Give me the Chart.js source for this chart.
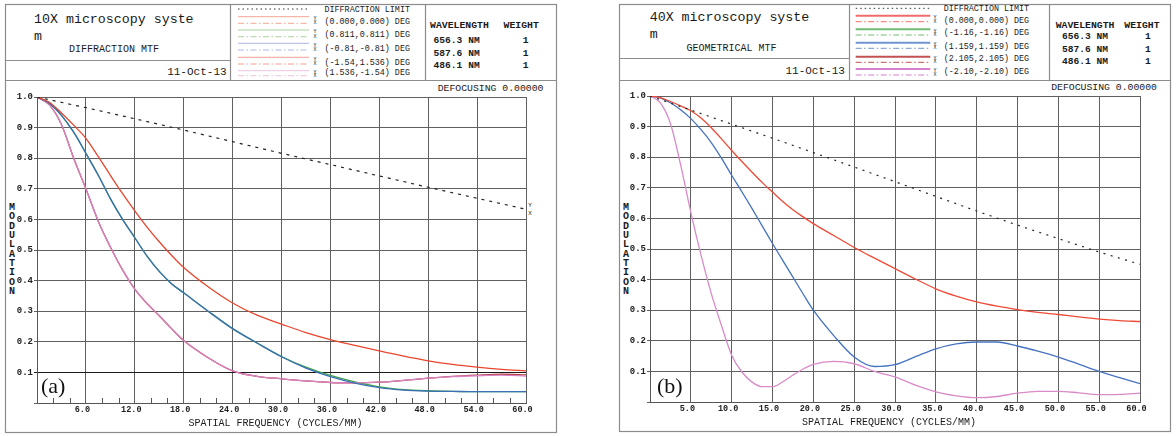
<!DOCTYPE html>
<html>
<head>
<meta charset="utf-8">
<script src="https://cdn.jsdelivr.net/npm/chart.js@4.4.1/dist/chart.umd.min.js"></script>
<style>
  body { margin: 0; background: #fff; width: 1176px; height: 436px; overflow: hidden; position: relative; }
  svg { position: absolute; left: 0; top: 0; font-family: "Liberation Mono", monospace; fill: #1a1a1a; }
  canvas { position: absolute; }
  .tag { position: absolute; font-family: "Liberation Serif", serif; font-size: 22px; line-height: 22px; color: #111; }
</style>
</head>
<body>
<svg id="frame" width="1176" height="436"></svg>
<canvas id="chartA" width="550" height="351" style="left:6px;top:81px"></canvas>
<canvas id="chartB" width="550" height="350" style="left:620px;top:81px"></canvas>
<div class="tag" style="left:41px;top:375px">(a)</div>
<div class="tag" style="left:657px;top:375px">(b)</div>
<script>
// ---- panel (a): 10X, diffraction MTF ----
const A_FREQ = [0, 1.5, 3, 4.5, 6, 7.5, 9, 10.5, 12, 13.5, 15, 16.5, 18, 21, 24, 27, 30, 33, 36, 39, 42, 45, 48, 51, 54, 57, 60];
const A_RED = [1.0, 0.983, 0.948, 0.908, 0.865, 0.806, 0.744, 0.684, 0.628, 0.575, 0.527, 0.483, 0.443, 0.38, 0.327, 0.287, 0.258, 0.23, 0.207, 0.188, 0.17, 0.153, 0.138, 0.126, 0.117, 0.11, 0.105];
const A_GREEN = [1.0, 0.98, 0.94, 0.885, 0.816, 0.745, 0.668, 0.6, 0.54, 0.48, 0.43, 0.39, 0.36, 0.30, 0.243, 0.196, 0.152, 0.117, 0.09, 0.069, 0.053, 0.044, 0.04, 0.038, 0.037, 0.037, 0.037];
const A_BLUE = [1.0, 0.98, 0.94, 0.885, 0.816, 0.745, 0.668, 0.6, 0.54, 0.48, 0.43, 0.39, 0.36, 0.30, 0.243, 0.196, 0.151, 0.114, 0.086, 0.065, 0.05, 0.042, 0.039, 0.038, 0.037, 0.037, 0.037];
const A_DKRED = [1.0, 0.975, 0.91, 0.80, 0.70, 0.595, 0.51, 0.435, 0.372, 0.325, 0.285, 0.243, 0.204, 0.148, 0.105, 0.087, 0.079, 0.072, 0.067, 0.066, 0.068, 0.074, 0.081, 0.087, 0.091, 0.094, 0.092];
const A_PINK = [1.0, 0.975, 0.91, 0.80, 0.70, 0.595, 0.51, 0.435, 0.372, 0.325, 0.285, 0.243, 0.204, 0.148, 0.105, 0.087, 0.079, 0.072, 0.067, 0.066, 0.068, 0.074, 0.081, 0.086, 0.089, 0.091, 0.088];
const A_DIFF_FREQ = [0, 6, 12, 18, 24, 30, 36, 42, 48, 54, 60];
const A_DIFF = [1.0, 0.965, 0.929, 0.892, 0.854, 0.816, 0.779, 0.742, 0.705, 0.669, 0.633];
const A_MINOR = [2, 4, 8, 10, 14, 16, 20, 22, 26, 28, 32, 34, 38, 40, 44, 46, 50, 52, 56, 58];
const A_FIELDS = ['(0.000,0.000) DEG', '(0.811,0.811) DEG', '(-0.81,-0.81) DEG', '(-1.54,1.536) DEG', '(1.536,-1.54) DEG'];

// ---- panel (b): 40X, geometrical MTF ----
const B_FREQ = [0, 1.25, 2.5, 3.75, 5, 6.25, 7.5, 8.75, 10, 11.25, 12.5, 13.75, 15, 16.25, 17.5, 18.75, 20, 22.5, 25, 27.5, 30, 32.5, 35, 37.5, 40, 42.5, 45, 47.5, 50, 52.5, 55, 57.5, 60];
const B_RED = [1.0, 0.995, 0.982, 0.968, 0.952, 0.928, 0.896, 0.86, 0.822, 0.786, 0.751, 0.717, 0.686, 0.655, 0.628, 0.605, 0.583, 0.544, 0.505, 0.47, 0.436, 0.402, 0.37, 0.346, 0.327, 0.313, 0.302, 0.293, 0.286, 0.278, 0.271, 0.266, 0.263];
const B_BLUE = [1.0, 0.994, 0.978, 0.955, 0.926, 0.89, 0.848, 0.797, 0.741, 0.687, 0.632, 0.575, 0.518, 0.463, 0.408, 0.353, 0.30, 0.217, 0.147, 0.116, 0.122, 0.148, 0.174, 0.19, 0.196, 0.196, 0.183, 0.166, 0.147, 0.124, 0.10, 0.08, 0.06];
const B_PINK = [1.0, 0.978, 0.91, 0.775, 0.62, 0.48, 0.355, 0.25, 0.153, 0.098, 0.065, 0.05, 0.05, 0.066, 0.088, 0.108, 0.123, 0.133, 0.125, 0.1, 0.082, 0.055, 0.033, 0.02, 0.014, 0.018, 0.029, 0.035, 0.035, 0.03, 0.024, 0.025, 0.029];
const B_DIFF_FREQ = [0, 5, 10, 15, 20, 25, 30, 35, 40, 45, 50, 55, 60];
const B_DIFF = [1.0, 0.954, 0.908, 0.862, 0.815, 0.768, 0.72, 0.672, 0.624, 0.578, 0.534, 0.49, 0.45];
const B_FIELDS = ['(0.000,0.000) DEG', '(-1.16,-1.16) DEG', '(1.159,1.159) DEG', '(2.105,2.105) DEG', '(-2.10,-2.10) DEG'];

const WAVELENGTHS = ['656.3 NM', '587.6 NM', '486.1 NM'];
const WEIGHTS = ['1', '1', '1'];
const MONO = "'Liberation Mono', monospace";

// ---- frames, headers and legend drawn in svg ----
const NS = 'http://www.w3.org/2000/svg';
const svg = document.getElementById('frame');
function add(tag, attrs, txt) {
  const e = document.createElementNS(NS, tag);
  for (const k in attrs) e.setAttribute(k, attrs[k]);
  if (txt !== undefined) e.textContent = txt;
  svg.appendChild(e);
  return e;
}
function line(x1, y1, x2, y2, stroke, w, dash) {
  const a = { x1, y1, x2, y2, stroke, 'stroke-width': w };
  if (dash) a['stroke-dasharray'] = dash;
  add('line', a);
}
function label(x, cy, size, str, anchor, weight) {
  add('text', { x, y: (cy + size * 0.34).toFixed(1), 'font-size': size,
    'text-anchor': anchor || 'start', 'font-weight': weight || 'normal' }, str);
}

function drawPanel(p) {
  const [l, t, r, b] = p.box;
  add('rect', { x: l, y: t, width: r - l, height: b - t, fill: 'none', stroke: '#8c8c8c', 'stroke-width': 1.2 });
  line(l, p.headY, r, p.headY, '#8c8c8c', 1.2);
  line(p.div1, t, p.div1, p.headY, '#8c8c8c', 1.2);
  line(p.div2, t, p.div2, p.headY, '#8c8c8c', 1.2);
  line(l, p.cellY, p.div1, p.cellY, '#8c8c8c', 1.2);

  label(p.titleX, p.titleY, 13.3, p.title);
  add('text', { x: p.titleX, y: p.titleY + 4.5 + 16.7, 'font-size': 13.3 }, 'm');
  label(p.kindX, p.kindY, 10, p.kind, 'middle');
  label(p.dateX, p.dateY, 11, '11-Oct-13', 'end');

  line(p.legX1, p.limY, p.legX2, p.limY, '#333', 1, '1.5 3');
  label(p.legTx, p.limY, 8.4, 'DIFFRACTION LIMIT');
  p.rows.forEach(([sy, dy, ly], i) => {
    line(p.legX1, sy, p.legX2, sy, p.legColors[i], p.legW);
    line(p.legX1, dy, p.legX2, dy, p.legColors[i], 1, '6 2.5 1.5 2.5');
    label(p.yxX, sy + 1.5, 5, 'Y', 'middle');
    label(p.yxX, dy - 0.8, 5, 'X', 'middle');
    label(p.legTx, ly, 8.4, p.fields[i]);
  });

  label(p.wlX, p.wlY, 9.8, 'WAVELENGTH', 'start', 'bold');
  label(p.wtX, p.wlY, 9.8, 'WEIGHT', 'start', 'bold');
  p.wlRows.forEach((y, i) => {
    label(p.wlRowX, y, 9.6, WAVELENGTHS[i], 'start', 'bold');
    label(p.oneX, y, 9.6, WEIGHTS[i], 'start', 'bold');
  });
  label(p.defX, p.defY, 9.8, 'DEFOCUSING  0.00000', 'end');

  'MODULATION'.split('').forEach((c, i) => label(p.modX, p.modY + i * 9.3, 10, c, 'middle', 'bold'));
}

drawPanel({
  box: [5.5, 4.5, 556.5, 432.5], headY: 80.5, div1: 230.5, div2: 425.5, cellY: 60.5,
  title: '10X microscopy syste', titleX: 34, titleY: 18.3, kind: 'DIFFRACTION MTF', kindX: 114, kindY: 49,
  dateX: 226.6, dateY: 71.7,
  legX1: 238, legX2: 309, legTx: 324.5, yxX: 315, limY: 9,
  rows: [[16.7, 23.3, 21], [30, 36.7, 34.3], [43.3, 50, 48.3], [57.3, 64, 61.7], [70.7, 75.7, 72.3]],
  legW: 1, legColors: ['#f2a593', '#a9d3a1', '#a9b9e6', '#efa090', '#e9c3dc'], fields: A_FIELDS,
  wlX: 430, wtX: 503.5, wlY: 25, wlRowX: 433.6, oneX: 522.7, wlRows: [39.3, 52.3, 65],
  defX: 543.5, defY: 88, modX: 12, modY: 206.7
});
drawPanel({
  box: [619.5, 4.5, 1170.5, 431.5], headY: 80.5, div1: 849.5, div2: 1049.5, cellY: 58.5,
  title: '40X microscopy syste', titleX: 649.7, titleY: 16.7, kind: 'GEOMETRICAL MTF', kindX: 731.5, kindY: 47.7,
  dateX: 844.9, dateY: 70,
  legX1: 855.7, legX2: 930.3, legTx: 943.7, yxX: 935, limY: 8.3,
  rows: [[15.7, 21.7, 20], [29.3, 35, 32.3], [42.7, 48.3, 45.7], [56.7, 62.3, 58.3], [69, 75, 70.7]],
  legW: 2, legColors: ['#f26b6b', '#72bb72', '#6f95d3', '#c25252', '#d67fcc'], fields: B_FIELDS,
  wlX: 1055.7, wtX: 1124.3, wlY: 25, wlRowX: 1062, oneX: 1144.9, wlRows: [36, 48.3, 60.7],
  defX: 1157, defY: 86.7, modX: 626, modY: 206.7
});
// end marker of the diffraction limit curve in (a)
label(530, 205, 6, 'Y', 'middle');
label(530, 213, 6, 'X', 'middle');

// ---- charts ----
const pts = (xs, ys) => xs.map((x, i) => ({ x, y: ys[i] }));

const minorTicks = {
  id: 'minorTicks',
  afterDatasetsDraw(chart, args, opts) {
    if (!opts.values) return;
    const { ctx, chartArea } = chart;
    const sx = chart.scales.x;
    ctx.save();
    ctx.strokeStyle = '#555';
    ctx.lineWidth = 1;
    ctx.beginPath();
    for (const v of opts.values) {
      const px = Math.round(sx.getPixelForValue(v)) + 0.5;
      ctx.moveTo(px, chartArea.bottom);
      ctx.lineTo(px, chartArea.bottom - 5);
    }
    ctx.stroke();
    ctx.restore();
  }
};

function curve(data, color) {
  return { data, borderColor: color, borderWidth: 1.3, pointRadius: 0, cubicInterpolationMode: 'monotone', fill: false };
}
function diffLine(data, dash) {
  return { data, borderColor: '#222', borderWidth: 1.2, borderDash: dash, pointRadius: 0, tension: 0, fill: false };
}

function makeChart(id, c) {
  return new Chart(document.getElementById(id), {
    type: 'line',
    data: { datasets: c.datasets },
    options: {
      responsive: false,
      animation: false,
      devicePixelRatio: 1,
      layout: { padding: { left: 0, right: 30, top: c.top, bottom: 0 } },
      plugins: { legend: { display: false }, tooltip: { enabled: false }, minorTicks: { values: c.minor } },
      scales: {
        x: {
          type: 'linear', min: 0, max: 60,
          afterFit: (s) => { s.height = c.xh; },
          ticks: {
            stepSize: c.step, autoSkip: false, maxRotation: 0, padding: 2, labelOffset: -3.5,
            color: '#222', font: { family: MONO, size: 8.5, weight: 'bold' },
            callback: (v) => (v > 0 ? v.toFixed(1) : '')
          },
          grid: { color: '#606060', drawTicks: false },
          border: { color: '#555' },
          title: {
            display: true, text: 'SPATIAL FREQUENCY (CYCLES/MM)  ', color: '#1a1a1a',
            font: { family: MONO, size: 10 }, padding: { top: 0, bottom: 3 }
          }
        },
        y: {
          min: 0, max: 1,
          afterFit: (s) => { s.width = c.yw; },
          ticks: {
            stepSize: 0.1, padding: 1, color: '#222', font: { family: MONO, size: 9, weight: 'bold' },
            callback: (v) => (v > 0.001 ? v.toFixed(1) : '')
          },
          grid: {
            tickLength: 3,
            color: (ctx) => (c.darkTenth && Math.abs(ctx.tick.value - 0.1) < 1e-6 ? '#1a1a1a' : '#606060')
          },
          border: { color: '#555' }
        }
      }
    },
    plugins: [minorTicks]
  });
}

makeChart('chartA', {
  top: 16, xh: 29, yw: 31, step: 6, minor: A_MINOR, darkTenth: true,
  datasets: [
    diffLine(pts(A_DIFF_FREQ, A_DIFF), [3, 5]),
    curve(pts(A_FREQ, A_RED), '#e8462d'),
    curve(pts(A_FREQ, A_BLUE), '#3b6fb6'),
    curve(pts(A_FREQ, A_PINK), '#d883c4'),
    curve(pts(A_FREQ, A_GREEN), '#3fa34a'),
    curve(pts(A_FREQ, A_DKRED), '#b03a3a')
  ]
});

makeChart('chartB', {
  top: 15, xh: 29, yw: 30, step: 5, minor: null, darkTenth: false,
  datasets: [
    diffLine(pts(B_DIFF_FREQ, B_DIFF), [2, 5.5]),
    curve(pts(B_FREQ, B_RED), '#ee4a35'),
    curve(pts(B_FREQ, B_BLUE), '#4472c0'),
    curve(pts(B_FREQ, B_PINK), '#d98ac8')
  ]
});
</script>
</body>
</html>
